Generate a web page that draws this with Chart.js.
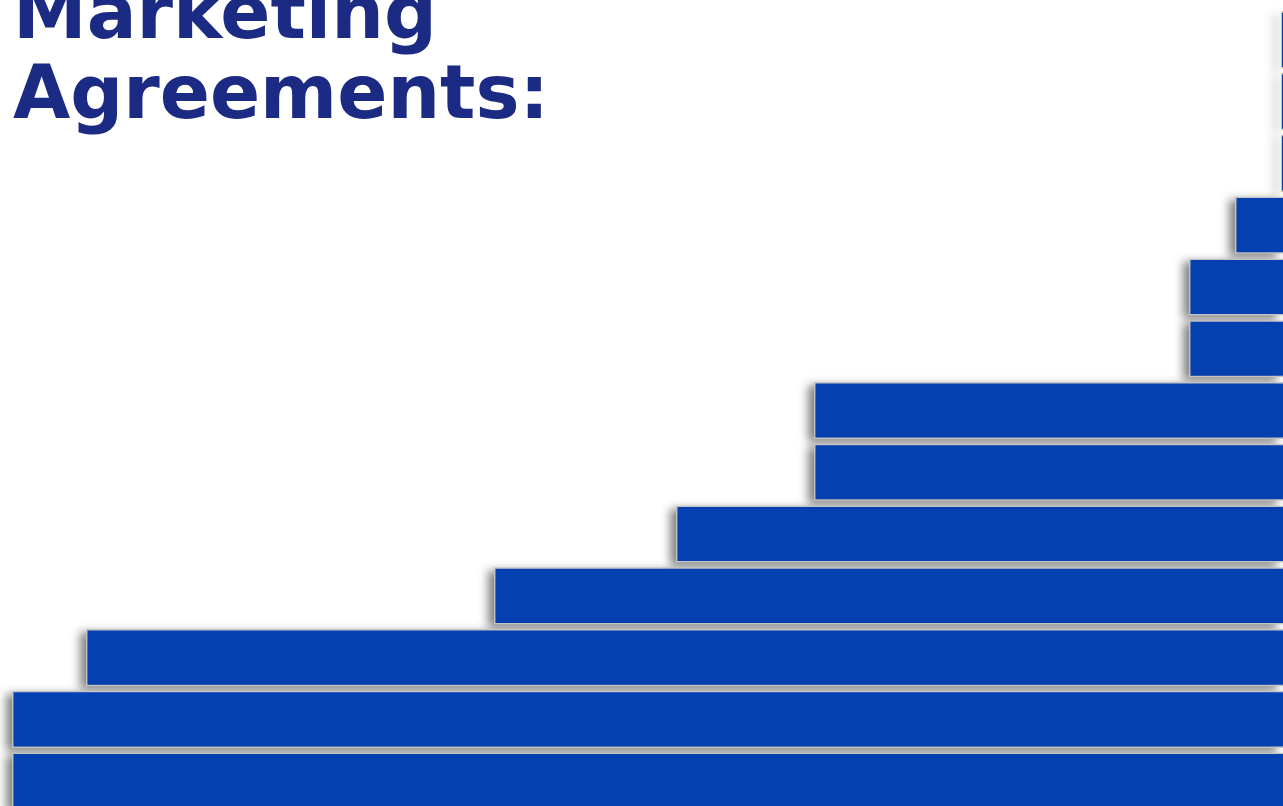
<!DOCTYPE html>
<html>
<head>
<meta charset="utf-8">
<script src="https://cdn.jsdelivr.net/npm/chart.js@4/dist/chart.umd.min.js"></script>
<style>
    html, body { margin: 0; padding: 0; background: #fff; overflow: hidden; }
    #wrap { position: relative; width: 1283px; height: 812px; }
    #myChart {
        position: absolute; left: 0; top: 0;
        /* soft shadow to the lower left of the bars */
        filter: drop-shadow(-6px 3px 5px rgba(0,0,0,0.5));
    }
    #title {
        position: absolute;
        left: 13px;
        top: -28px;
        font-family: "DejaVu Sans", Verdana, sans-serif;
        font-weight: bold;
        font-size: 74px;
        line-height: 80px;
        color: #1b2a82;
        z-index: 2;
        white-space: nowrap;
    }
</style>
</head>
<body>
<div id="wrap">
    <canvas id="myChart" width="1283" height="812"></canvas>
    <div id="title">Marketing<br>Agreements:</div>
</div>
<script>
// rows from top to bottom, bar lengths measured from the right edge
const rows = ["1", "2", "3", "4", "5", "6", "7", "8", "9", "10", "11", "12", "13"];
const values = [0.2, 0.2, 0.2, 4.8, 9.4, 9.4, 46.9, 46.9, 60.7, 78.9, 119.7, 127.1, 127.1];
const xMax = 128.3;

const ctx = document.getElementById("myChart");
new Chart(ctx, {
    type: "bar",
    data: {
        labels: rows,
        datasets: [
            {
                data: values,
                backgroundColor: "#0540b0",
                borderColor: "#c4c4c4",
                borderWidth: 1.5,
                borderSkipped: "start",
                barPercentage: 0.925,
                categoryPercentage: 1,
            },
        ],
    },
    options: {
        indexAxis: "y",
        responsive: false,
        maintainAspectRatio: false,
        animation: false,
        devicePixelRatio: 1,
        layout: { padding: { top: 9, bottom: 0, left: 0, right: 0 } },
        plugins: {
            legend: { display: false },
            title: { display: false },
            tooltip: { enabled: false },
        },
        scales: {
            x: {
                display: false,
                reverse: true,
                min: 0,
                max: xMax,
            },
            y: {
                display: false,
            },
        },
    },
});
</script>
</body>
</html>
